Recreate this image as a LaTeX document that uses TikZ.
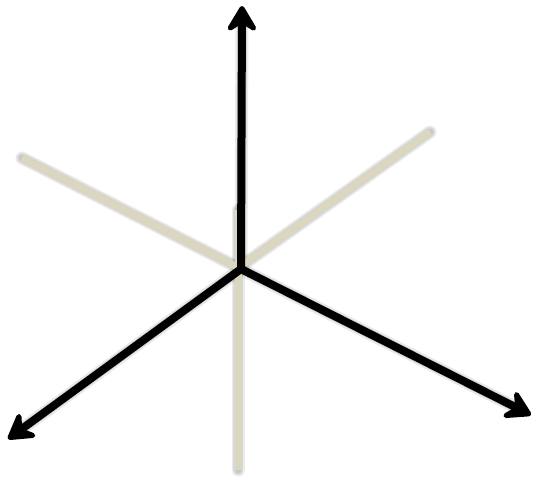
\documentclass[tikz,border=0pt]{standalone}
\usepackage{tikz}
\usetikzlibrary{arrows.meta,calc}

\definecolor{axisbeige}{RGB}{219,214,190}

\begin{document}
\begin{tikzpicture}[
    x=1pt, y=-1pt,
    oldaxis/.style={draw=axisbeige, line width=7pt},
    newaxis/.style={draw=black, line width=8pt, line cap=round, -{Stealth[length=32pt, width=38pt, inset=12pt, round]}},
    shade/.style={draw=black, line cap=round, opacity=0.08, line width=#1},
    shade/.default=6pt
]
\useasboundingbox (0,0) rectangle (539,482);

\coordinate (o) at (241,269);
\coordinate (up) at (242,6);
\coordinate (left) at (8,439);
\coordinate (right) at (531,415);
\coordinate (bl) at (22,158);
\coordinate (br) at (430,132);
\coordinate (vt) at (238,210);
\coordinate (vb) at (238,470);

% soft shadows
\begin{scope}[shift={(5,5)}]
    \foreach \w in {13pt,10pt,7pt} {
        \draw[shade=\w] (bl) -- (o);
        \draw[shade=\w] (br) -- ($(o)+(3,-5)$);
        \draw[shade=\w] (vt) -- (vb);
        \draw[shade=\w] (o) -- ($(up)+(0,18)$);
        \draw[shade=\w] (o) -- ($(left)!18pt!(o)$);
        \draw[shade=\w] (o) -- ($(right)!18pt!(o)$);
    }
\end{scope}

% previous axes
\draw[oldaxis] (bl) -- (o);
\draw[oldaxis] (br) -- ($(o)+(3,-5)$);
\draw[oldaxis] (vt) -- (vb);

% rotated axes
\draw[newaxis] (o) -- (up);
\draw[newaxis] (o) -- (left);
\draw[newaxis] (o) -- (right);
\end{tikzpicture}
\end{document}
